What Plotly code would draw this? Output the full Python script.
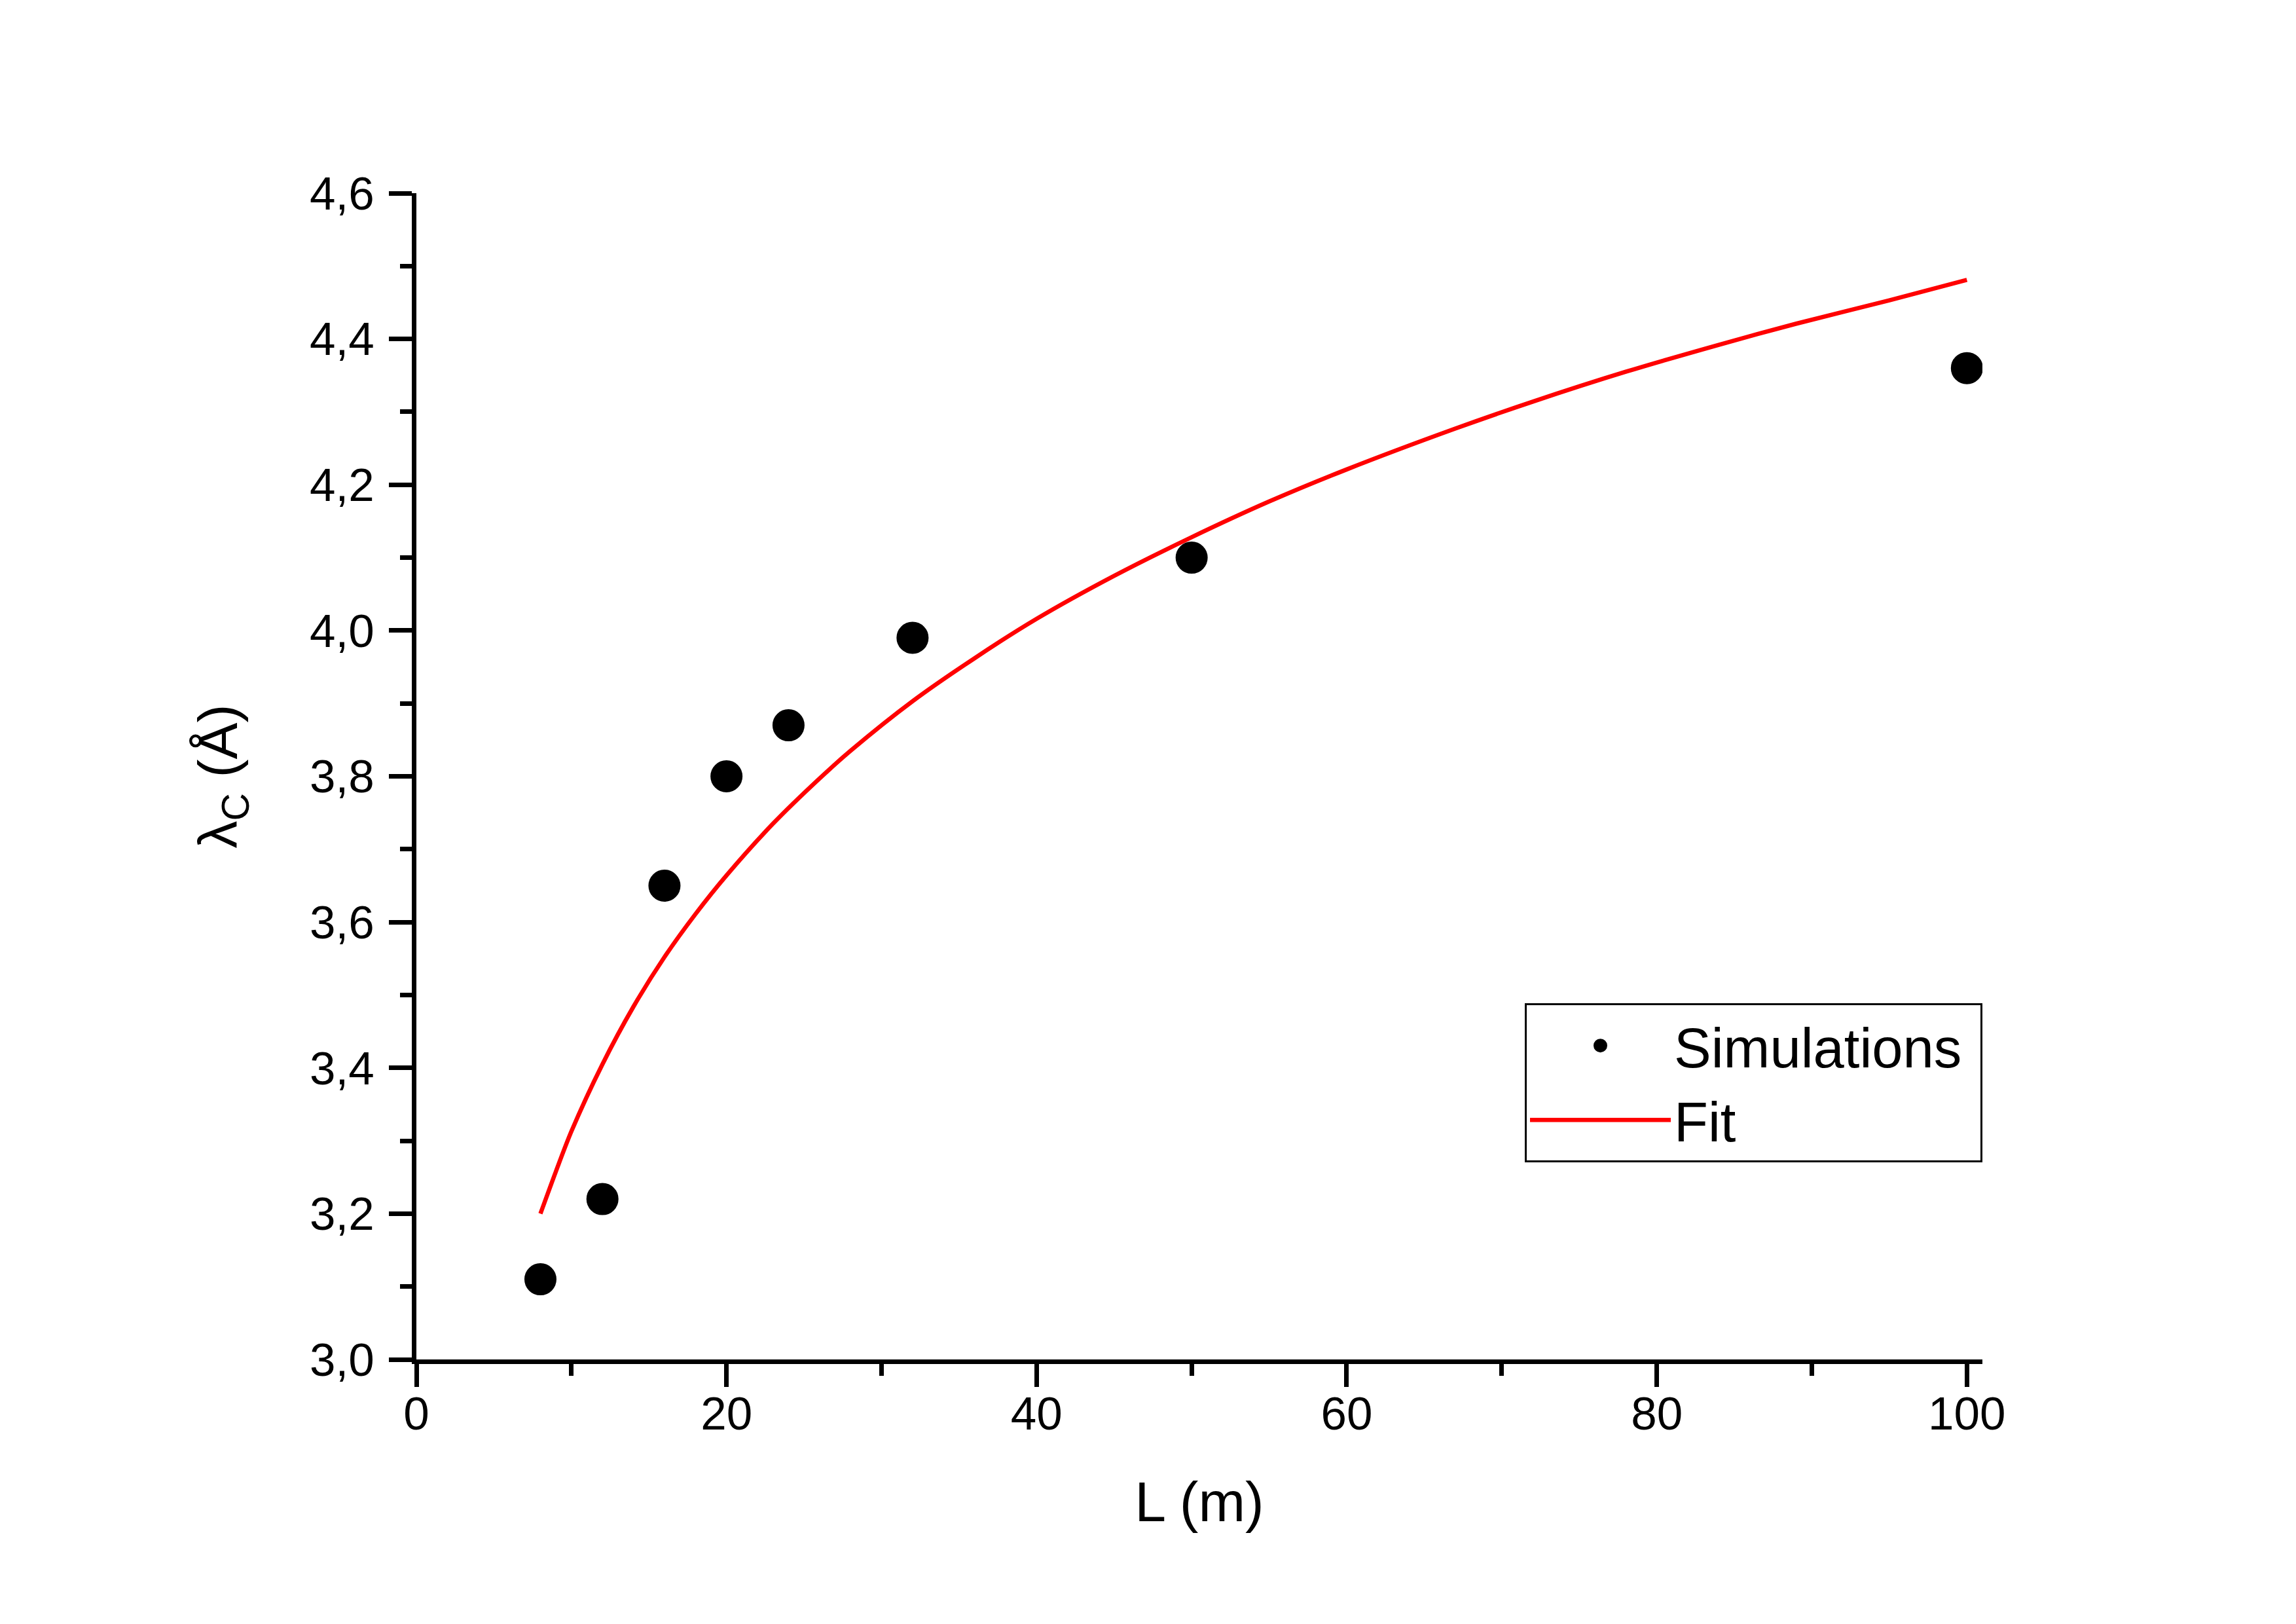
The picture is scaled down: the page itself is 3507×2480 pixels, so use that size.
import plotly.graph_objects as go

# simulation points
L_sim = [8, 12, 16, 20, 24, 32, 50, 100]
lambda_sim = [3.11, 3.22, 3.65, 3.80, 3.87, 3.99, 4.10, 4.36]

# fit curve
L_fit = [8, 9, 10, 12, 14, 16, 18, 20, 23, 26, 28, 32, 36, 40, 45, 50,
         55, 60, 67, 72, 78, 84, 89, 95, 100]
lambda_fit = [3.200, 3.258, 3.313, 3.405, 3.484, 3.552, 3.611, 3.664, 3.735,
              3.797, 3.835, 3.903, 3.962, 4.016, 4.075, 4.128, 4.177, 4.221,
              4.277, 4.314, 4.355, 4.392, 4.421, 4.453, 4.481]

font = "Liberation Sans, Arial, sans-serif"

fig = go.Figure()

fig.add_trace(go.Scatter(
    x=L_sim, y=lambda_sim, mode="markers", name="Simulations\u00a0",
    marker=dict(color="black", size=44, symbol="circle",
                line=dict(color="black", width=5)),
))

fig.add_trace(go.Scatter(
    x=L_fit, y=lambda_fit, mode="lines", name="Fit",
    line=dict(color="#ff0000", width=6.5, shape="spline", smoothing=0.8),
))

axis_common = dict(
    showline=True, linecolor="black", linewidth=7,
    ticks="outside", ticklen=35, tickwidth=7, tickcolor="black",
    showgrid=False, zeroline=False, mirror=False,
    tickfont=dict(family=font, size=71, color="black"),
)

fig.update_xaxes(
    range=[0, 101], tickvals=[0, 20, 40, 60, 80, 100],
    minor=dict(dtick=10, tick0=0, ticks="outside", ticklen=18, tickwidth=7, tickcolor="black"),
    ticklabelstandoff=-20,
    title=dict(text="L (m)", font=dict(family=font, size=86, color="black"), standoff=68),
    **axis_common,
)

fig.update_yaxes(
    range=[3.0, 4.6], tickvals=[3.0, 3.2, 3.4, 3.6, 3.8, 4.0, 4.2, 4.4, 4.6],
    tickformat=".1f",
    minor=dict(dtick=0.1, tick0=3.0, ticks="outside", ticklen=18, tickwidth=7, tickcolor="black"),
    ticklabelstandoff=8,
    title=dict(text="λ<sub>C</sub> (Å)", font=dict(family=font, size=84, color="black"), standoff=85),
    **axis_common,
)

fig.update_layout(
    width=3507, height=2480,
    margin=dict(l=628, r=487, t=287, b=412),
    paper_bgcolor="white", plot_bgcolor="white",
    separators=",.",
    showlegend=True,
    legend=dict(
        x=1.0, y=0.3055, xanchor="right", yanchor="top",
        bgcolor="white", bordercolor="black", borderwidth=3,
        font=dict(family=font, size=85, color="black"),
        itemwidth=215, itemsizing="trace",
        tracegroupgap=0,
    ),
)

fig.write_html("out.html")
